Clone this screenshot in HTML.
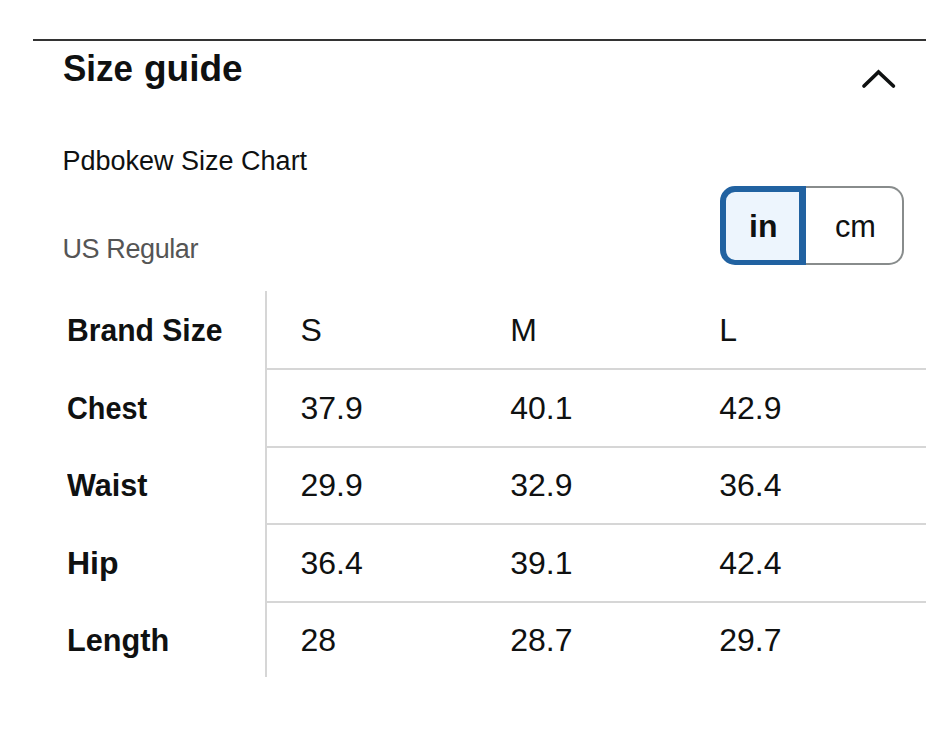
<!DOCTYPE html>
<html>
<head>
<meta charset="utf-8">
<style>
html,body{margin:0;padding:0;background:#fff;}
body{width:926px;height:736px;position:relative;overflow:hidden;font-family:"Liberation Sans",sans-serif;color:#0f1111;}
.a{position:absolute;white-space:nowrap;line-height:1;}
#rule{position:absolute;left:33px;top:38.7px;width:893px;height:2px;background:#333;}
#h{left:63px;top:50px;font-size:37px;font-weight:bold;}
#h2{left:144px;top:50px;font-size:37px;font-weight:bold;}
#sub{left:62.5px;top:147.5px;font-size:27px;}
#us{left:62.5px;top:235.7px;font-size:27px;color:#555;letter-spacing:-0.4px;}
#tog{position:absolute;left:720px;top:186px;width:184px;height:79px;}
#tin{position:absolute;left:0;top:0;width:73px;height:67.5px;border:6px solid #2162a1;border-right-width:7px;border-bottom-width:5px;border-radius:15px 0 0 15px;background:#edf5fd;}
#tcm{position:absolute;left:86px;top:0;width:96px;height:74.5px;border:2px solid #888c8c;border-left:none;border-radius:0 15px 15px 0;background:#fff;}
.tt{position:absolute;top:209.5px;font-size:32px;line-height:1;}
#vl{position:absolute;left:265px;top:291px;width:2px;height:386px;background:#d6d6d6;}
.hl{position:absolute;left:266px;width:660px;height:2px;background:#d6d6d6;}
.lab{font-weight:bold;font-size:32px;transform-origin:0 0;}
.c{font-size:32px;}
</style>
</head>
<body>
<div id="rule"></div>
<div class="a" id="h"><span style="display:inline-block;transform:scaleX(0.944);transform-origin:0 0">Size</span></div><div class="a" id="h2">guide</div>
<svg style="position:absolute;left:850px;top:60px" width="60" height="40" viewBox="850 60 60 40"><path d="M864 86 L878.5 72 L893.4 86" fill="none" stroke="#0f1111" stroke-width="3.7" stroke-linecap="round" stroke-linejoin="miter"/></svg>
<div class="a" id="sub">Pdbokew Size Chart</div>
<div class="a" id="us">US Regular</div>
<div id="tog"><div id="tin"></div><div id="tcm"></div></div>
<div class="a tt" style="left:749px;font-weight:bold">in</div>
<div class="a tt" style="left:835.2px;transform:scaleX(0.96);transform-origin:0 0">cm</div>
<div id="vl"></div>
<div class="hl" style="top:368px"></div>
<div class="hl" style="top:446px"></div>
<div class="hl" style="top:523px"></div>
<div class="hl" style="top:601px"></div>

<div class="a lab" style="left:67.2px;top:313.5px;transform:scaleX(0.94)">Brand Size</div>
<div class="a c" style="left:300.5px;top:313.5px">S</div>
<div class="a c" style="left:510.2px;top:313.5px">M</div>
<div class="a c" style="left:719.2px;top:313.5px">L</div>

<div class="a lab" style="left:66.5px;top:391.5px;transform:scaleX(0.90)">Chest</div>
<div class="a c" style="left:300.5px;top:391.5px">37.9</div>
<div class="a c" style="left:510.2px;top:391.5px">40.1</div>
<div class="a c" style="left:719.2px;top:391.5px">42.9</div>

<div class="a lab" style="left:67px;top:468.8px;transform:scaleX(0.956)">Waist</div>
<div class="a c" style="left:300.5px;top:468.8px">29.9</div>
<div class="a c" style="left:510.2px;top:468.8px">32.9</div>
<div class="a c" style="left:719.2px;top:468.8px">36.4</div>

<div class="a lab" style="left:67px;top:546.5px">Hip</div>
<div class="a c" style="left:300.5px;top:546.5px">36.4</div>
<div class="a c" style="left:510.2px;top:546.5px">39.1</div>
<div class="a c" style="left:719.2px;top:546.5px">42.4</div>

<div class="a lab" style="left:67px;top:623.8px;transform:scaleX(0.959)">Length</div>
<div class="a c" style="left:300.5px;top:623.8px">28</div>
<div class="a c" style="left:510.2px;top:623.8px">28.7</div>
<div class="a c" style="left:719.2px;top:623.8px">29.7</div>
</body>
</html>
